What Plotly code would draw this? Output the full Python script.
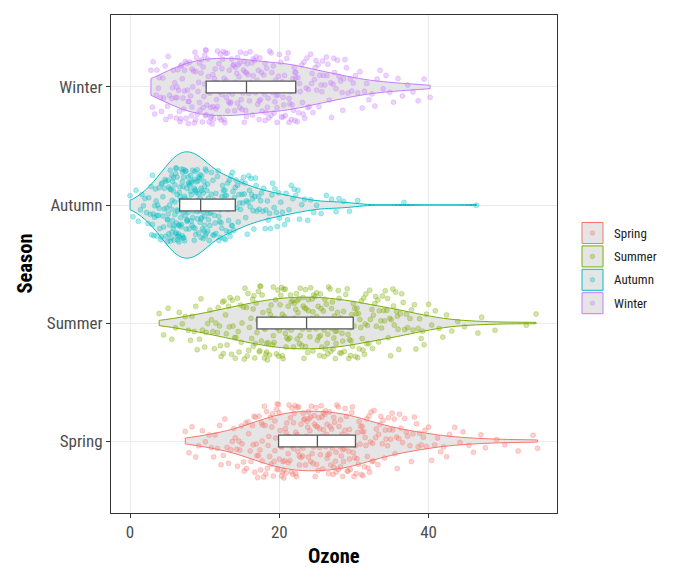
import numpy as np
import plotly.graph_objects as go

seasons = ["Spring", "Summer", "Autumn", "Winter"]
colors = ["#F8766D", "#7CAE00", "#00BFC4", "#C77CFF"]

spring = [7.4, 7.9, 8.3, 8.8, 9.2, 9.7, 10.1, 10.6,
          10.9, 11.2, 11.4, 11.7, 12.0, 12.2, 12.5, 12.7, 13.0, 13.2, 13.5, 13.7,
          13.9, 14.1, 14.3, 14.4, 14.6, 14.7, 14.9, 15.0, 15.2, 15.3, 15.5, 15.6, 15.8, 15.9, 16.1, 16.2, 16.4,
          16.5, 16.6, 16.7, 16.8, 16.9, 17.0, 17.1, 17.2, 17.3, 17.4,
          17.5, 17.6, 17.7, 17.7, 17.8, 17.9, 18.0, 18.1, 18.2, 18.3,
          18.4, 18.5, 18.6, 18.7, 18.8, 18.9, 19.0, 19.1,
          19.2, 19.3, 19.4, 19.4, 19.5, 19.6, 19.7, 19.7, 19.8, 19.9,
          20.0, 20.0, 20.1, 20.2, 20.3, 20.3, 20.4, 20.5, 20.6, 20.6,
          20.7, 20.8, 20.9, 20.9,
          21.0, 21.1, 21.2, 21.2, 21.3, 21.4, 21.4, 21.5, 21.6, 21.7,
          21.7, 21.8, 21.9, 21.9, 22.0, 22.1, 22.2, 22.2, 22.3, 22.4,
          22.4, 22.5, 22.6, 22.7, 22.7, 22.8, 22.9, 22.9, 23.0, 23.1,
          23.2, 23.2, 23.3, 23.4, 23.4, 23.5, 23.6, 23.7, 23.7, 23.8,
          23.9, 23.9, 24.0, 24.1, 24.2, 24.2, 24.3, 24.4, 24.4,
          24.5, 24.6, 24.7, 24.7, 24.8, 24.9, 24.9, 25.0, 25.1, 25.2,
          25.2, 25.3, 25.4, 25.4, 25.5, 25.6, 25.7, 25.7, 25.8, 25.9,
          25.9, 26.0, 26.1, 26.2, 26.2, 26.3, 26.4, 26.4, 26.5, 26.6,
          26.7, 26.7, 26.8, 26.9, 26.9, 27.0, 27.1, 27.2,
          27.3, 27.3, 27.4, 27.5, 27.6, 27.6, 27.7, 27.8, 27.9, 27.9,
          28.0, 28.1, 28.2, 28.2, 28.3, 28.4, 28.5, 28.5, 28.6, 28.7,
          28.8, 28.8, 28.9, 29.0, 29.1, 29.1, 29.2, 29.3, 29.4, 29.4,
          29.5, 29.6, 29.7, 29.7, 29.8, 29.9,
          30.0, 30.1, 30.2, 30.3, 30.4, 30.5, 30.6, 30.7, 30.8, 30.9,
          31.0, 31.1, 31.1, 31.2, 31.3, 31.4, 31.5, 31.6, 31.7, 31.8,
          31.9, 32.0, 32.1, 32.2, 32.3, 32.4, 32.5, 32.6,
          32.7, 32.9, 33.0, 33.2, 33.3, 33.5, 33.6, 33.8, 33.9, 34.1,
          34.2, 34.3, 34.5, 34.6, 34.8, 34.9, 35.1, 35.2, 35.4, 35.5,
          35.7, 35.8, 36.0, 36.1,
          36.3, 36.5, 36.8, 37.0, 37.2, 37.5, 37.7, 37.9, 38.1, 38.4, 38.6, 38.8, 39.0, 39.3, 39.5, 39.7,
          40.0, 40.4, 40.8, 41.2, 41.6, 42.0, 42.4, 42.8,
          43.5, 44.2, 44.6, 45.4, 46.0, 47.0, 47.6,
          49.1, 50.2, 52.0, 54.0, 54.6]

summer = [3.9, 4.5, 5.1, 5.6, 6.1, 6.6, 7.0, 7.4, 7.8,
          8.1, 8.3, 8.6, 8.8, 9.0, 9.3, 9.5, 9.7, 10.0, 10.2, 10.4, 10.7, 10.9, 11.1, 11.3, 11.5,
          11.7, 11.8, 12.0, 12.1, 12.2, 12.4, 12.5, 12.6, 12.8, 12.9,
          13.0, 13.2, 13.3, 13.4, 13.6, 13.7, 13.8, 14.0, 14.1, 14.2,
          14.4, 14.5, 14.6, 14.8, 14.9, 15.0, 15.2, 15.3, 15.4, 15.6,
          15.7, 15.8, 15.9, 16.0,
          16.2, 16.3, 16.4, 16.5, 16.5, 16.6, 16.7, 16.8, 16.9, 17.0,
          17.1, 17.2, 17.3, 17.4, 17.4, 17.5, 17.6, 17.7, 17.8, 17.9,
          18.0, 18.1, 18.2, 18.3, 18.3, 18.4, 18.5, 18.6, 18.7, 18.8,
          18.9, 19.0, 19.1, 19.2, 19.2, 19.3, 19.4, 19.5, 19.6, 19.7,
          19.8, 19.9, 20.0,
          20.1, 20.2, 20.3, 20.4, 20.4, 20.5, 20.6, 20.7, 20.8, 20.8,
          20.9, 21.0, 21.1, 21.2, 21.2, 21.3, 21.4, 21.5, 21.6, 21.6,
          21.7, 21.8, 21.9, 22.0, 22.0, 22.1, 22.2, 22.3, 22.4, 22.4,
          22.5, 22.6, 22.7, 22.8, 22.8, 22.9, 23.0, 23.1, 23.2, 23.2,
          23.3, 23.4, 23.5, 23.5,
          23.6, 23.7, 23.8, 23.9, 23.9, 24.0, 24.1, 24.2, 24.3, 24.4,
          24.5, 24.5, 24.6, 24.7, 24.8, 24.9, 25.0, 25.0, 25.1, 25.2,
          25.3, 25.4, 25.5, 25.5, 25.6, 25.7, 25.8, 25.9, 26.0, 26.0,
          26.1, 26.2, 26.3, 26.4, 26.5, 26.5, 26.6, 26.7, 26.8, 26.9,
          27.0, 27.0, 27.1, 27.2, 27.3, 27.4, 27.5, 27.5, 27.6, 27.7,
          27.8, 27.9, 28.0, 28.0, 28.1,
          28.2, 28.3, 28.4, 28.5, 28.6, 28.7, 28.8, 28.9, 29.0, 29.1,
          29.2, 29.3, 29.4, 29.5, 29.6, 29.7, 29.8, 29.9, 30.0, 30.1,
          30.2, 30.3, 30.4, 30.5, 30.6, 30.7, 30.8, 30.9, 31.0, 31.1,
          31.2, 31.3, 31.4, 31.5, 31.6, 31.7, 29.55,
          31.8, 32.0, 32.1, 32.2, 32.4, 32.5, 32.6, 32.8, 32.9, 33.0,
          33.2, 33.3, 33.4, 33.6, 33.7, 33.8, 34.0, 34.1, 34.2, 34.4,
          34.5, 34.6, 34.8, 34.9, 35.0, 35.2, 35.3, 35.4, 35.6, 35.7,
          35.8, 35.9, 36.0,
          36.2, 36.4, 36.6, 36.8, 37.0, 37.2, 37.5, 37.7, 37.9, 38.1, 38.3, 38.6, 38.8, 39.0, 39.2, 39.4, 39.7,
          40.0, 40.4, 40.9, 41.4, 41.9, 42.4,
          43.1, 43.9, 44.8,
          46.6, 47.1, 48.9, 53.1, 54.4]

autumn = [0.0, 0.4, 0.8, 1.1, 1.4, 1.6, 1.8, 2.0, 2.2, 2.4, 2.5, 2.7,
          2.8, 2.9, 3.0, 3.0, 3.1, 3.2, 3.3, 3.3, 3.4, 3.5,
          3.6, 3.6, 3.7, 3.8, 3.9, 3.9, 4.0, 4.1, 4.2, 4.2,
          4.3, 4.4, 4.4, 4.5, 4.6, 4.6, 4.7, 4.8, 4.8, 4.9,
          5.0, 5.0, 5.1, 5.1, 5.2, 5.2, 5.3, 5.3, 5.4, 5.4,
          5.5, 5.5, 5.6, 5.6, 5.7, 5.7, 5.8, 5.8, 5.9, 5.9,
          6.0, 6.0, 6.1, 6.1, 6.2, 6.2, 6.3, 6.3, 6.4, 6.4,
          6.5, 6.5, 6.6, 6.6, 6.7, 6.7, 6.8, 6.8, 6.9, 6.9,
          7.0, 7.0, 7.1, 7.1, 7.2, 7.2, 7.3, 7.3, 7.4, 7.4,
          7.5, 7.5, 7.6, 7.6, 7.7, 7.7, 7.8, 7.8, 7.9, 7.9,
          5.05, 5.35, 5.65, 6.15, 6.55, 7.05, 7.65,
          5.6, 5.8, 6.0, 6.2, 6.4, 6.6, 6.8, 7.0, 7.2, 7.4,
          7.6, 7.8, 8.0, 8.2, 8.4, 8.6, 8.8, 9.0, 9.2, 9.4,
          9.6, 9.8, 10.0, 10.2, 6.3, 7.1, 7.9, 8.7, 9.5, 6.9,
          8.0, 8.1, 8.1, 8.2, 8.2, 8.3, 8.3, 8.4, 8.4, 8.5,
          8.5, 8.6, 8.6, 8.7, 8.7, 8.8, 8.8, 8.9, 8.9, 9.0,
          9.0, 9.1, 9.1, 9.2, 9.2, 9.3, 9.3, 9.4, 9.4, 9.5,
          9.5, 9.6, 9.6, 9.7, 9.7, 9.8, 9.8, 9.9, 9.9, 10.0,
          10.0, 10.1, 10.1, 10.2, 10.2, 10.3, 10.3, 10.4, 10.4, 10.5,
          10.5, 10.6, 10.6, 10.7, 8.05, 9.25,
          10.8, 10.9, 10.9, 11.0, 11.1, 11.1, 11.2, 11.3, 11.3, 11.4,
          11.5, 11.5, 11.6, 11.7, 11.7, 11.8, 11.9, 11.9, 12.0, 12.1,
          12.1, 12.2, 12.3, 12.3, 12.4, 12.5, 12.5, 12.6, 12.7, 12.7,
          12.8, 12.9, 12.9, 13.0, 13.1, 13.1, 13.2, 13.3, 13.3, 13.4,
          13.5, 13.5, 13.6, 13.6, 13.7, 13.7, 13.8, 13.8,
          13.9, 14.0, 14.1, 14.2, 14.3, 14.4, 14.5, 14.6, 14.7, 14.8,
          14.9, 15.0, 15.1, 15.2, 15.3, 15.4, 15.5, 15.6, 15.7, 15.8,
          15.9, 16.0, 16.1, 16.2, 16.3, 16.4, 16.5, 16.6, 16.7, 16.8,
          16.9, 17.0,
          17.2, 17.3, 17.5, 17.6, 17.8, 17.9, 18.1, 18.2, 18.4, 18.5,
          18.7, 18.8, 19.0, 19.1, 19.3, 19.4, 19.6, 19.7, 19.9, 20.0,
          20.2, 20.4, 20.7, 20.9, 21.1, 21.3, 21.6, 21.8, 22.0, 22.2, 22.5, 22.7,
          23.0, 23.4, 23.8, 24.2, 24.6, 25.0,
          25.6, 26.3, 27.0, 27.6, 28.0,
          28.6, 29.4, 30.5,
          36.7, 46.4]

winter = [2.8, 3.0, 3.1, 3.3, 3.5, 3.6, 3.8, 3.9, 4.1, 4.2, 4.4, 4.5, 4.7, 4.8, 5.0, 5.1, 5.3, 5.4, 5.6, 5.7, 5.8, 6.0,
          6.1, 6.2, 6.3, 6.3, 6.4, 6.5, 6.6, 6.7, 6.8, 6.8,
          6.9, 7.0, 7.1, 7.2, 7.3, 7.3, 7.4, 7.5, 7.6, 7.7,
          7.8, 7.8, 7.9, 8.0, 8.1, 8.2, 8.3, 8.3, 8.4, 8.5,
          8.6, 8.7, 8.8, 8.8, 8.9, 9.0, 9.1, 9.2, 9.3, 9.3,
          9.4, 9.5, 9.6, 9.7, 9.8, 9.8, 9.9, 10.0, 10.0, 10.1,
          10.1, 10.2, 10.2,
          10.3, 10.4, 10.5, 10.5, 10.6, 10.7, 10.8, 10.8, 10.9, 11.0,
          11.1, 11.1, 11.2, 11.3, 11.4, 11.4, 11.5, 11.6, 11.7, 11.7,
          11.8, 11.9, 12.0, 12.0, 12.1, 12.2, 12.3, 12.3, 12.4, 12.5,
          12.6, 12.6, 12.7, 12.8, 12.9, 12.9, 13.0, 13.1, 13.2, 13.2,
          13.3, 13.4, 13.5, 13.5, 13.6, 13.7, 13.8, 13.8, 13.9, 14.0,
          14.1, 14.1, 14.2, 14.3, 14.4, 14.4, 14.5, 14.6, 14.7, 14.7,
          14.8, 14.9, 15.0, 15.0, 15.1, 15.2, 15.3, 15.3, 15.4, 15.5,
          15.5, 15.6, 15.6, 15.6, 15.7,
          15.8, 15.9, 16.0, 16.1, 16.2, 16.3, 16.4, 16.5, 16.5, 16.6,
          16.7, 16.8, 16.9, 17.0, 17.1, 17.2, 17.3, 17.3, 17.4, 17.5,
          17.6, 17.7, 17.8, 17.9, 18.0, 18.1, 18.1, 18.2, 18.3, 18.4,
          18.5, 18.6, 18.7, 18.8, 18.9, 18.9, 19.0, 19.1, 19.2, 19.3,
          19.4, 19.5, 19.6, 19.7, 19.7, 19.8, 19.9, 20.0, 20.1, 20.2,
          20.3, 20.4, 20.5, 20.5, 20.6, 20.7, 20.8, 20.9, 21.0, 21.1,
          21.2, 21.3, 21.3, 21.4, 21.5, 21.6, 21.7, 21.8, 21.9, 22.0,
          22.0, 22.1, 22.1, 22.2, 22.2,
          22.4, 22.5, 22.6, 22.7, 22.8, 23.0, 23.1, 23.2, 23.3, 23.4, 23.6, 23.7, 23.8,
          23.9, 24.0, 24.2, 24.3, 24.4, 24.5, 24.7, 24.8, 24.9, 25.0, 25.2, 25.3, 25.4,
          25.6, 25.7, 25.8, 25.9, 26.1, 26.3, 26.4, 26.5, 26.7, 26.9, 27.0, 27.2, 27.3,
          27.4, 27.6, 27.8, 28.0, 28.2, 28.4, 28.5, 28.6, 28.8, 29.0, 29.2, 29.5, 29.7, 29.9,
          30.2, 30.5, 30.8, 31.1, 31.4, 31.7, 32.0, 32.4, 32.8, 33.1, 33.5,
          33.9, 34.3, 34.8, 35.3, 35.9, 36.5, 37.2, 37.9, 38.6, 39.4, 40.2]

series = [spring, summer, autumn, winter]

# box statistics (IQR box with median, no whiskers)
box_q1 = [19.9, 17.0, 6.65, 10.2]
box_median = [25.1, 23.65, 9.46, 15.6]
box_q3 = [30.2, 29.9, 14.1, 22.2]

x_ticks = [0, 20, 40]

FONT = "Roboto Condensed, Roboto, sans-serif"
OFF = 8  # page offset of the figure inside the browser window
W, H = 680 - OFF, 583 - OFF
ML, MR, MT, MB = 111 - OFF, 123, 15 - OFF, 70
PW, PH = W - ML - MR, H - MT - MB
VIOLIN_W = 0.9


def px_x(p):
    return (p - OFF - ML) / PW


def px_y(p):
    return (H - MB - (p - OFF)) / PH


def rgba(hex_color, a):
    h = hex_color.lstrip("#")
    r, g, b = int(h[0:2], 16), int(h[2:4], 16), int(h[4:6], 16)
    return f"rgba({r},{g},{b},{a})"


def nrd0(v):
    v = np.asarray(v, dtype=float)
    sd = np.std(v, ddof=1)
    iqr = np.subtract(*np.percentile(v, [75, 25]))
    return 0.9 * min(sd, iqr / 1.34) * len(v) ** -0.2


def kde_max(v, bw):
    v = np.asarray(v, dtype=float)
    grid = np.linspace(v.min(), v.max(), 512)
    d = np.exp(-0.5 * ((grid[:, None] - v[None, :]) / bw) ** 2).sum(axis=1)
    return (d / (len(v) * bw * np.sqrt(2 * np.pi))).max()


bws = [nrd0(v) for v in series]
kmax = [kde_max(v, b) for v, b in zip(series, bws)]
widths = [VIOLIN_W * k / max(kmax) for k in kmax]  # equal-area scaling (ggplot scale="area")

fig = go.Figure()

for name, col, vals, bw, wd in zip(seasons, colors, series, bws, widths):
    fig.add_trace(go.Violin(
        x=vals, y=[name] * len(vals), orientation="h", name=name,
        width=wd, scalemode="width", spanmode="hard", bandwidth=bw,
        fillcolor="#E5E5E5", line=dict(color=col, width=1),
        points=False, box_visible=False, meanline_visible=False,
        showlegend=False, hoverinfo="skip",
    ))

for name, col, vals in zip(seasons, colors, series):
    fig.add_trace(go.Box(
        x=vals, y=[name] * len(vals), orientation="h", name=name,
        width=VIOLIN_W, boxpoints="all", pointpos=0, jitter=0.7,
        fillcolor="rgba(0,0,0,0)", line=dict(color="rgba(0,0,0,0)", width=0),
        marker=dict(color=rgba(col, 0.33), size=5,
                    line=dict(color=rgba(col, 0.45), width=0.6)),
        showlegend=False, hoverinfo="skip",
    ))

fig.add_trace(go.Box(
    y=seasons, q1=box_q1, median=box_median, q3=box_q3,
    lowerfence=box_q1, upperfence=box_q3, orientation="h",
    width=0.1, whiskerwidth=0, fillcolor="white",
    line=dict(color="#595959", width=1.3), boxpoints=False,
    showlegend=False, hoverinfo="skip",
))

# legend (keys + labels sized like ggplot's legend)
shapes = []
annotations = []
key_x0, key_x1, key_top, key_step, key_h = 582, 603, 222.5, 23.4, 21
for i, (name, col) in enumerate(zip(seasons, colors)):
    y0 = key_top + i * key_step
    y1 = y0 + key_h
    yc = (y0 + y1) / 2
    xc = (key_x0 + key_x1) / 2
    shapes.append(dict(type="rect", xref="paper", yref="paper",
                       x0=px_x(key_x0), x1=px_x(key_x1), y0=px_y(y1), y1=px_y(y0),
                       fillcolor="#E5E5E5", line=dict(color=col, width=1), layer="above"))
    shapes.append(dict(type="circle", xref="paper", yref="paper",
                       x0=px_x(xc - 2.3), x1=px_x(xc + 2.3), y0=px_y(yc + 2.3), y1=px_y(yc - 2.3),
                       fillcolor=rgba(col, 0.35), line=dict(color=rgba(col, 0.45), width=0.6),
                       layer="above"))
    annotations.append(dict(text=name, xref="paper", yref="paper",
                            x=px_x(612), y=px_y(yc), xanchor="left", yanchor="middle",
                            showarrow=False, font=dict(size=13, color="#1a1a1a", family=FONT)))

annotations.append(dict(text="<b>Ozone</b>", xref="paper", yref="paper",
                        x=0.5, y=px_y(555.5), xanchor="center", yanchor="middle",
                        showarrow=False, font=dict(size=20.5, color="black", family=FONT)))
annotations.append(dict(text="<b>Season</b>", xref="paper", yref="paper",
                        x=px_x(24.5), y=0.5, xanchor="center", yanchor="middle",
                        textangle=-90, showarrow=False,
                        font=dict(size=20.5, color="black", family=FONT)))

fig.update_layout(
    width=W, height=H,
    margin=dict(l=ML, r=MR, t=MT, b=MB),
    plot_bgcolor="white", paper_bgcolor="white",
    violinmode="overlay", boxmode="overlay",
    font=dict(family=FONT, color="#1a1a1a"),
    showlegend=False,
    shapes=shapes, annotations=annotations,
)

fig.update_xaxes(
    range=[-2.55, 57.2], tickvals=x_ticks, ticks="outside", ticklen=4,
    tickcolor="#333333", tickfont=dict(size=17, color="#4D4D4D", family=FONT),
    showgrid=True, gridcolor="#EBEBEB", gridwidth=1, zeroline=False,
    showline=True, mirror=True, linecolor="#333333", linewidth=1,
    automargin=False,
)
fig.update_yaxes(
    type="category", categoryorder="array", categoryarray=seasons,
    range=[-0.61, 3.61], ticks="outside", ticklen=4, tickcolor="#333333",
    tickfont=dict(size=17, color="#4D4D4D", family=FONT),
    showgrid=True, gridcolor="#EBEBEB", gridwidth=1, zeroline=False,
    showline=True, mirror=True, linecolor="#333333", linewidth=1,
    automargin=False,
)

fig.write_html("out.html")
